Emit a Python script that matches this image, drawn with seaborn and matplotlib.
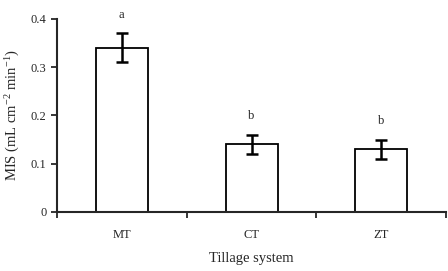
import numpy as np
import pandas as pd
import matplotlib
matplotlib.use("Agg")
import matplotlib.pyplot as plt
import seaborn as sns

systems = ["MT", "CT", "ZT"]
mis = [0.34, 0.14, 0.13]
err = [0.03, 0.02, 0.02]
letters = ["a", "b", "b"]

sns.set_style("ticks")
plt.rcParams["font.family"] = ["Liberation Serif", "DejaVu Serif"]
plt.rcParams["mathtext.fontset"] = "custom"
plt.rcParams["mathtext.rm"] = "Liberation Serif"
plt.rcParams["mathtext.it"] = "Liberation Serif:italic"

df = pd.DataFrame({"system": systems, "mis": mis})

fig = plt.figure(figsize=(4.48, 2.71), dpi=100)
ax = fig.add_axes([0.127, 0.218, 0.869, 0.712])

sns.barplot(data=df, x="system", y="mis", color="white", edgecolor="black",
            linewidth=1.3, width=0.4, errorbar=None, ax=ax)
ax.errorbar(np.arange(len(systems)), mis, yerr=err, fmt="none", ecolor="black",
            elinewidth=1.8, capsize=4, capthick=1.8)

# significance letters above the error bars
for i, (m, e, l) in enumerate(zip(mis, err, letters)):
    ax.text(i, m + e + 0.038, l, ha="center", va="center", fontsize=9, clip_on=False)

ax.set_xlim(-0.5, 2.5)
ax.set_ylim(0, 0.4)
ax.set_yticks([0, 0.1, 0.2, 0.3, 0.4])
ax.set_yticklabels(["0", "0.1", "0.2", "0.3", "0.4"])
ax.set_xticks([-0.5, 0.5, 1.5, 2.5], minor=True)
ax.tick_params(axis="x", which="major", length=0, pad=12, labelsize=9)
ax.tick_params(axis="x", which="minor", length=4, width=1.3, direction="out")
ax.tick_params(axis="y", length=4, width=1.3, direction="out", labelsize=9)
for s in ["left", "bottom"]:
    ax.spines[s].set_linewidth(1.5)
sns.despine(ax=ax)

ax.set_xlabel("Tillage system", fontsize=10.5, labelpad=8)
ax.set_ylabel(r"MIS (mL cm$^{-2}$ min$^{-1}$)", fontsize=10.5, labelpad=6)

fig.savefig("out.png", dpi=100)
